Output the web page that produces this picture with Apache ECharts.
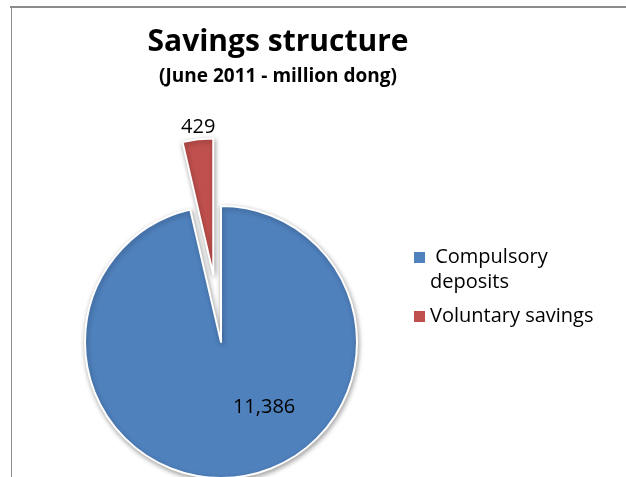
<!DOCTYPE html>
<html>
<head>
<meta charset="utf-8">
<script src="https://cdn.jsdelivr.net/npm/echarts@6/dist/echarts.min.js"></script>
<style>
html,body{margin:0;padding:0;background:#fff;}
#chart{width:626px;height:477px;}
</style>
</head>
<body>
<div id="chart"></div>
<script>
var categories = [" Compulsory deposits", "Voluntary savings"];
var values = [11386, 429];
var colors = ["#4F81BD", "#C0504D"];
var titleText = "Savings structure";
var subtitleText = "(June 2011 - million dong)";

var chart = echarts.init(document.getElementById('chart'), null, {renderer: 'canvas'});

var labelShift = [[35, -5], [-7, -77]];

var data = categories.map(function (c, i) {
  return {
    name: c,
    value: values[i],
    selected: i === 1,
    itemStyle: {color: colors[i]}
  };
});

var option = {
  animation: false,
  backgroundColor: '#fff',
  title: {
    text: titleText,
    subtext: subtitleText,
    left: 278,
    top: 27,
    padding: 0,
    textAlign: 'center',
    itemGap: 10,
    textStyle: {fontFamily: 'Open Sans', fontWeight: 'bold', fontSize: 30, color: '#000'},
    subtextStyle: {fontFamily: 'Open Sans', fontWeight: 'bold', fontSize: 19, color: '#000'}
  },
  legend: {
    orient: 'vertical',
    left: 414,
    top: 220,
    padding: 0,
    itemWidth: 11,
    itemHeight: 11,
    itemGap: 9,
    icon: 'rect',
    selectedMode: false,
    itemStyle: {borderWidth: 0, borderColor: 'transparent', shadowBlur: 0, shadowOffsetX: 0, shadowOffsetY: 0},
    formatter: function (name) {
      return name === categories[0] ? '\n' + name.replace(' deposits', '\ndeposits') : name;
    },
    textStyle: {fontFamily: 'Open Sans', fontSize: 20, color: '#000', lineHeight: 25},
    data: categories
  },
  graphic: [
    {type: 'line', shape: {x1: 10, y1: 7, x2: 626, y2: 7}, style: {stroke: '#8c8c8c', lineWidth: 2}, silent: true},
    {type: 'line', shape: {x1: 11.5, y1: 7, x2: 11.5, y2: 477}, style: {stroke: '#8c8c8c', lineWidth: 1}, silent: true}
  ],
  series: [{
    type: 'pie',
    center: [221, 342],
    radius: 136,
    startAngle: 90,
    clockwise: true,
    selectedMode: 'single',
    selectedOffset: 68,
    avoidLabelOverlap: false,
    itemStyle: {
      borderColor: '#fff',
      borderWidth: 2,
      shadowBlur: 5,
      shadowColor: 'rgba(0,0,0,0.35)',
      shadowOffsetX: 1,
      shadowOffsetY: 2
    },
    label: {
      show: true,
      position: 'inside',
      fontFamily: 'Open Sans',
      fontSize: 20,
      color: '#000',
      formatter: function (p) { return p.value.toLocaleString('en-US'); }
    },
    labelLine: {show: false},
    labelLayout: function (p) {
      var s = labelShift[p.dataIndex];
      return {dx: s[0], dy: s[1]};
    },
    emphasis: {disabled: true},
    data: data
  }]
};
chart.setOption(option);
</script>
</body>
</html>
